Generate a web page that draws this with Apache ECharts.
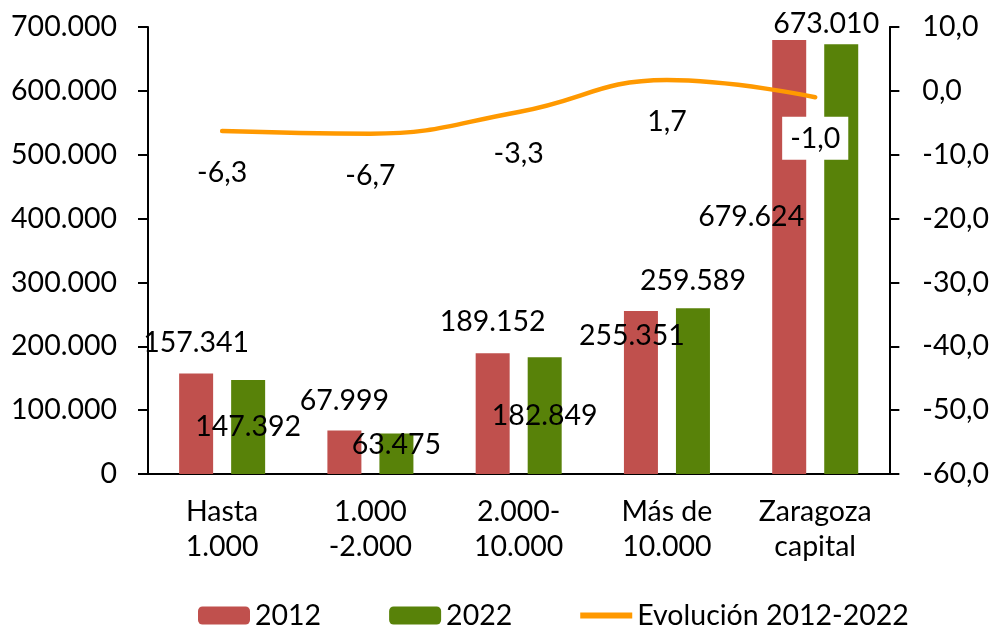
<!DOCTYPE html>
<html>
<head>
<meta charset="utf-8">
<script src="https://cdn.jsdelivr.net/npm/echarts@6/dist/echarts.min.js"></script>
<style>
  html, body { margin: 0; padding: 0; background: #fff; }
  #chart { width: 992px; height: 627px; }
</style>
</head>
<body>
<div id="chart"></div>
<script>
  // datos
  var categories = ['Hasta\n1.000', '1.000\n-2.000', '2.000-\n10.000', 'Más de\n10.000', 'Zaragoza\ncapital'];
  var values2012 = [157341, 67999, 189152, 255351, 679624];
  var values2022 = [147392, 63475, 182849, 259589, 673010];
  var evolucion = [-6.3, -6.7, -3.3, 1.7, -1.0];
  var seriesNames = ['2012', '2022', 'Evolución 2012-2022'];

  // posiciones de etiquetas (como en el original de Excel)
  var labels2012 = [
    { position: 'top', distance: 16 },
    { position: 'top', distance: 15 },
    { position: 'top', distance: 17 },
    { position: 'insideTop', distance: 10, offset: [-9, 0] },
    { position: 'inside', offset: [-38, -40] }
  ];
  var labels2022 = [
    { position: 'inside' },
    { position: 'inside', offset: [0, -9] },
    { position: 'inside' },
    { position: 'top', distance: 13 },
    { position: 'top', distance: 6, offset: [-15, 0] }
  ];

  var FONT = 'Lato';
  var SIZE = 28.5;

  function miles(v) {
    return String(Math.round(v)).replace(/\B(?=(\d{3})+(?!\d))/g, '.');
  }
  function decimal(v) {
    return Number(v).toFixed(1).replace('.', ',');
  }

  var chart = echarts.init(document.getElementById('chart'));

  var labelBase = { show: true, color: '#000', fontFamily: FONT, fontSize: SIZE, formatter: function (p) { return miles(p.value); } };

  chart.setOption({
    animation: false,
    textStyle: { fontFamily: FONT, fontSize: SIZE, color: '#000' },
    grid: { left: 148, right: 102, top: 27, bottom: 153 },
    legend: {
      left: 193,
      top: 596,
      itemWidth: 52,
      itemHeight: 18,
      itemGap: 68,
      textStyle: { fontFamily: FONT, fontSize: SIZE, color: '#000' },
      data: [
        seriesNames[0],
        seriesNames[1],
        { name: seriesNames[2], icon: 'path://M0,0H52V6H0Z' }
      ]
    },
    xAxis: {
      type: 'category',
      data: categories,
      axisLine: { lineStyle: { color: '#000', width: 2 } },
      axisTick: { length: 10, lineStyle: { color: '#000', width: 2 } },
      axisLabel: { color: '#000', fontFamily: FONT, fontSize: SIZE, lineHeight: 35, margin: 20, interval: 0 }
    },
    yAxis: [{
      type: 'value',
      min: 0,
      max: 700000,
      interval: 100000,
      splitLine: { show: false },
      axisLine: { show: true, lineStyle: { color: '#000', width: 2 } },
      axisTick: { show: true, length: 10, lineStyle: { color: '#000', width: 2 } },
      axisLabel: { color: '#000', fontFamily: FONT, fontSize: SIZE, margin: 31, formatter: miles }
    }, {
      type: 'value',
      min: -60,
      max: 10,
      interval: 10,
      splitLine: { show: false },
      axisLine: { show: true, lineStyle: { color: '#000', width: 2 } },
      axisTick: { show: true, length: 10, lineStyle: { color: '#000', width: 2 } },
      axisLabel: { color: '#000', fontFamily: FONT, fontSize: SIZE, margin: 33, formatter: decimal }
    }],
    series: [{
      name: seriesNames[0],
      type: 'bar',
      barWidth: 34,
      barGap: '53%',
      itemStyle: { color: '#C0504D' },
      label: labelBase,
      data: values2012.map(function (v, i) { return { value: v, label: labels2012[i] }; })
    }, {
      name: seriesNames[1],
      type: 'bar',
      barWidth: 34,
      barGap: '53%',
      itemStyle: { color: '#588209' },
      label: labelBase,
      data: values2022.map(function (v, i) { return { value: v, label: labels2022[i] }; })
    }, {
      name: seriesNames[2],
      type: 'line',
      yAxisIndex: 1,
      smooth: 0.45,
      symbol: 'circle',
      symbolSize: 1,
      showSymbol: true,
      lineStyle: { color: '#FF9900', width: 4.5, cap: 'round' },
      itemStyle: { color: '#FF9900' },
      label: {
        show: true,
        position: 'bottom',
        distance: 27,
        color: '#000',
        fontFamily: FONT,
        fontSize: SIZE,
        formatter: function (p) { return decimal(p.value); }
      },
      data: evolucion.map(function (v, i) {
        if (i === evolucion.length - 1) {
          return { value: v, label: { backgroundColor: '#fff', padding: [8, 8, 6, 8], distance: 19 } };
        }
        return v;
      })
    }]
  });
</script>
</body>
</html>
